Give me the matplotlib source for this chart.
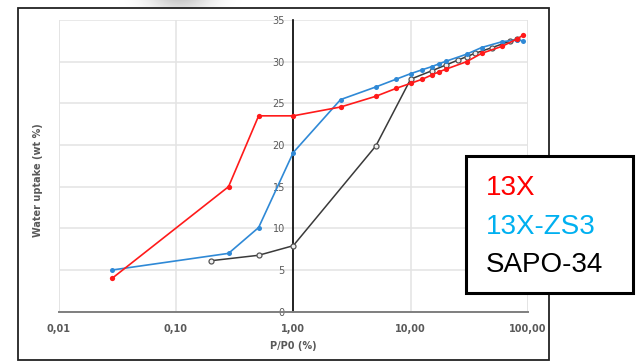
import matplotlib
matplotlib.use("Agg")
import matplotlib.pyplot as plt
import numpy as np
from matplotlib.patches import Rectangle
from matplotlib.ticker import FixedLocator, NullLocator

# ---- data ----
x_13x = [0.0286, 0.281, 0.507, 1.0, 2.53, 5.06, 7.53, 10.0, 12.6, 15.1, 17.6, 20.0, 30.0, 40.3, 60.3, 80.1, 91.3]
y_13x = [4.0, 15.0, 23.5, 23.5, 24.56, 25.85, 26.8, 27.4, 27.9, 28.4, 28.8, 29.1, 30.0, 31.0, 31.85, 32.7, 33.2]

x_zs3 = [0.0286, 0.281, 0.507, 1.0, 2.53, 5.06, 7.53, 10.0, 12.6, 15.1, 17.6, 20.0, 30.0, 40.3, 60.3, 80.1, 91.3]
y_zs3 = [5.0, 7.0, 10.1, 19.1, 25.45, 26.97, 27.9, 28.56, 29.04, 29.4, 29.76, 30.05, 30.9, 31.7, 32.4, 32.6, 32.5]

x_sapo = [0.2, 0.507, 1.0, 5.06, 10.0, 15.1, 20.0, 25.4, 30.0, 35.3, 49.7, 70.0, 80.1]
y_sapo = [6.12, 6.77, 7.92, 19.9, 27.9, 28.9, 29.6, 30.2, 30.6, 31.0, 31.7, 32.45, 32.7]

x_ticks = [0.01, 0.1, 1, 10, 100]
x_tick_labels = ["0,01", "0,10", "1,00", "10,00", "100,00"]
y_ticks = [0, 5, 10, 15, 20, 25, 30, 35]
legend_labels = ["13X", "13X-ZS3", "SAPO-34"]

W, H = 641, 361
fig = plt.figure(figsize=(W / 100, H / 100), dpi=100)
fig.patch.set_facecolor("white")

# faint blurred artefact at the top edge
blur_ax = fig.add_axes([110 / W, 1 - 9 / H, 140 / W, 9 / H])
gx = np.linspace(-1, 1, 140)
gy = np.linspace(0, 1, 9)[:, None]
blur = 1 - 0.2 * np.exp(-(gx[None, :] / 0.45) ** 2) * (1 - 0.4 * gy)
blur_ax.imshow(blur, cmap="gray", vmin=0, vmax=1, aspect="auto", interpolation="bilinear")
blur_ax.axis("off")

# outer frame
fig.patches.append(Rectangle((18 / W, 1 - 360 / H), 531 / W, 352 / H, transform=fig.transFigure,
                             fill=False, edgecolor="#222222", linewidth=1.3, zorder=5))

ax = fig.add_axes([58.5 / W, 1 - 311.7 / H, (528 - 58.5) / W, (311.7 - 20) / H])
ax.set_xscale("log")
ax.set_xlim(0.01, 100)
ax.set_ylim(0, 35)

tick_color = "#595959"
ax.xaxis.set_major_locator(FixedLocator(x_ticks))
ax.xaxis.set_minor_locator(NullLocator())
ax.set_xticks(x_ticks)
ax.set_xticklabels(x_tick_labels)
ax.set_yticks(y_ticks)
ax.set_yticklabels([str(v) for v in y_ticks])
ax.tick_params(axis="both", length=0, labelsize=7, labelcolor=tick_color)
ax.tick_params(axis="x", pad=9)
ax.tick_params(axis="y", pad=6)
for lab in ax.get_xticklabels() + ax.get_yticklabels():
    lab.set_fontweight("bold")

ax.grid(True, color="#e3e3e3", linewidth=1.1)
ax.set_axisbelow(True)

for s in ["top", "right"]:
    ax.spines[s].set_visible(False)
ax.spines["left"].set_position(("data", 1))
ax.spines["left"].set_color("black")
ax.spines["left"].set_linewidth(1.2)
ax.spines["bottom"].set_color("#7f7f7f")
ax.spines["bottom"].set_linewidth(1.4)
ax.spines["left"].set_zorder(1)

ax.axvline(0.01, color="#e3e3e3", linewidth=1.1, zorder=0)
ax.axvline(100, color="#e3e3e3", linewidth=1.1, zorder=0)

ax.plot(x_sapo, y_sapo, color="#3a3a3a", linewidth=1.1, marker="o", markersize=3.6,
        markerfacecolor="#f0f0f0", markeredgecolor="#555555", markeredgewidth=0.9, zorder=3)
ax.plot(x_zs3, y_zs3, color="#2f89d6", linewidth=1.2, marker="o", markersize=3.6,
        markeredgewidth=0, zorder=4)
ax.plot(x_13x, y_13x, color="#ff1a1a", linewidth=1.2, marker="o", markersize=3.8,
        markeredgewidth=0, zorder=5)

fig.text(38 / W, 1 - 180 / H, "Water uptake (wt %)", rotation=90, ha="center", va="center",
         fontsize=7, fontweight="bold", color=tick_color)
fig.text(293 / W, 1 - 346 / H, "P/P0 (%)", ha="center", va="center",
         fontsize=7, fontweight="bold", color=tick_color)

# legend box
fig.patches.append(Rectangle((466 / W, 1 - 293 / H), 167 / W, 137 / H, transform=fig.transFigure,
                             facecolor="white", edgecolor="black", linewidth=2.2, zorder=10))
leg_colors = ["#ff0000", "#00b0f0", "#000000"]
leg_y = [188, 227, 265]
for lab, c, yy in zip(legend_labels, leg_colors, leg_y):
    fig.text(486 / W, 1 - yy / H, lab, color=c, fontsize=20, family="Liberation Sans",
             ha="left", va="center", zorder=11)

fig.savefig("out.png", dpi=100, facecolor="white")
